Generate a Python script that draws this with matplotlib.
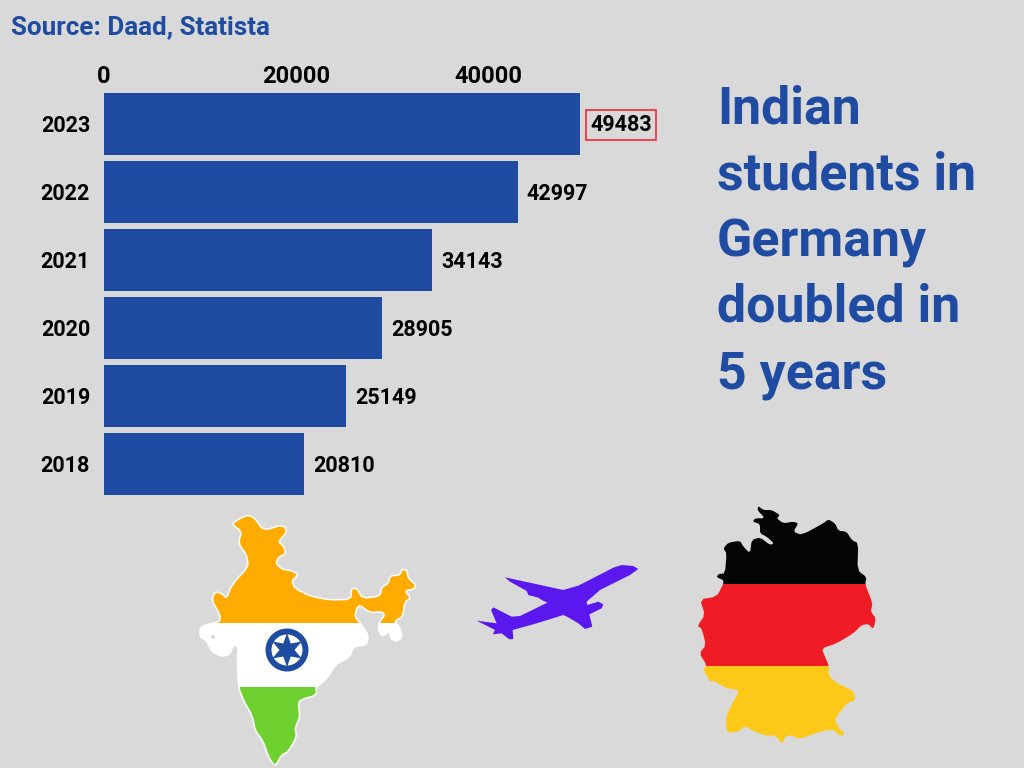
import numpy as np
from matplotlib import pyplot as plt
from matplotlib.patches import Circle, PathPatch, Polygon, Rectangle
from matplotlib.path import Path

years = ['2023', '2022', '2021', '2020', '2019', '2018']
students = [49483, 42997, 34143, 28905, 25149, 20810]
x_ticks = [0, 20000, 40000]

title_lines = ['Indian', 'students in', 'Germany', 'doubled in', '5 years']
source_text = 'Source: Daad, Statista'

bg = '#d9d9d9'
blue = '#1f4ca2'
font = 'Roboto'

W, H = 1024, 768


def smooth(pts, rounds=1):
    # chaikin corner cutting so the hand traced outlines are not so jagged
    pts = np.array(pts, dtype=float)
    for _ in range(rounds):
        nxt = np.roll(pts, -1, axis=0)
        pts = np.column_stack([0.8*pts + 0.2*nxt, 0.2*pts + 0.8*nxt]).reshape(-1, 2)
    return pts


def crop_to_px(pts, x0, y0):
    # outlines were traced on 3x crops of the picture
    return np.array(pts, dtype=float)/3 + [x0, y0]


def shape(ax, pts, bands, edge=None):
    path = Path(np.vstack([pts, pts[:1]]), closed=True)
    for y0, y1, col in bands:
        r = Rectangle((0, y0), W, y1-y0, fc=col, ec='none', zorder=3)
        ax.add_patch(r)
        r.set_clip_path(PathPatch(path, transform=ax.transData))
    if edge:
        ax.add_patch(PathPatch(path, fc='none', ec=edge, lw=1.1, zorder=4))


india_outline = [(155,72),(180,55),(205,45),(225,55),(245,85),(265,88),(295,77),(315,80),(320,97),(295,125),
    (312,140),(317,162),(295,172),(288,190),(305,207),(335,212),(355,224),(335,243),(345,265),(390,288),(450,300),
    (512,298),(515,265),(530,265),(548,295),(600,288),(605,262),(625,250),(630,228),(660,225),(665,208),(680,210),
    (685,235),(708,255),(700,268),(675,272),(692,295),(675,305),(668,350),(650,360),(645,368),(655,375),(668,410),
    (650,425),(632,415),(625,385),(622,400),(605,408),(595,390),(597,368),(615,345),(605,335),(570,338),(540,316),
    (530,325),(525,350),(540,368),(565,405),(560,435),(520,440),(510,470),(465,495),(445,530),(415,558),(408,560),
    (410,585),(360,600),(355,615),(360,650),(345,685),(350,710),(325,755),(305,765),(285,800),(265,770),(250,725),
    (225,690),(218,650),(190,600),(175,560),(172,470),(175,440),(160,435),(150,462),(125,470),(95,455),(80,422),
    (60,410),(60,385),(75,375),(120,365),(120,345),(95,300),(105,275),(125,280),(140,295),(155,255),(205,200),
    (200,165),(175,130),(185,95)]

germany_outline = [(235,18),(250,30),(275,30),(300,45),(290,55),(310,70),(340,65),(355,70),(340,95),(365,105),
    (430,70),(445,58),(465,70),(475,92),(500,95),(515,120),(535,130),(532,210),(560,232),(555,252),(578,310),
    (572,335),(588,355),(580,388),(565,372),(545,375),(520,400),(470,430),(425,445),(435,470),(447,498),(445,525),
    (470,550),(520,572),(527,600),(500,610),(470,650),(465,660),(480,690),(492,695),(490,707),(475,705),(460,688),
    (420,695),(355,718),(335,705),(315,710),(308,733),(285,705),(260,708),(225,695),(195,678),(175,695),(140,698),
    (138,655),(150,622),(180,570),(140,565),(100,542),(90,545),(70,510),(80,495),(58,460),(78,435),(65,385),(52,378),
    (75,345),(60,298),(110,290),(130,252),(130,240),(110,232),(115,222),(135,220),(140,160),(130,145),(145,128),
    (180,122),(190,140),(210,160),(215,120),(240,112),(270,135),(282,130),(260,110),(240,100),(240,72),(218,65),
    (225,55),(255,55),(232,30)]

plane_outline = [(505,42),(490,33),(455,30),(430,38),(325,92),(280,105),(105,67),(120,80),(170,108),(175,120),
    (205,128),(215,135),(232,143),(150,183),(125,185),(70,157),(63,165),(80,205),(20,197),(75,225),(68,238),(95,235),
    (118,253),(130,252),(128,225),(200,205),(280,180),(300,190),(325,205),(345,222),(367,215),(358,178),(395,160),
    (400,148),(385,140),(352,150),(350,140),(390,105),(480,60)]

fig = plt.figure(figsize=(W/100, H/100), dpi=100, facecolor=bg)

# bar chart, pixel box of the axes
px_per_unit = 476/49483
ax_right = 680
ax = fig.add_axes([104/W, (H-498)/H, (ax_right-104)/W, 408/H])
ax.set_facecolor('none')
ypos = np.arange(len(years))
ax.barh(ypos, students, height=62/68, color=blue)
ax.set_xlim(0, (ax_right-104)/px_per_unit)
ax.set_ylim(len(years)-0.5, -0.5)
ax.set_yticks(ypos, years, fontsize=15.5, fontweight='bold', fontfamily=font)
ax.set_xticks(x_ticks, [str(v) for v in x_ticks], fontsize=17, fontweight='bold', fontfamily=font)
ax.xaxis.tick_top()
ax.tick_params(length=0)
ax.tick_params(axis='y', pad=10)
ax.tick_params(axis='x', pad=1.5)
for s in ax.spines.values():
    s.set_visible(False)

for i, v in enumerate(students):
    if i == 0:
        ax.annotate(str(v), (v, i), xytext=(10, -1), textcoords='offset pixels', va='center', ha='left',
                    fontsize=15.5, fontweight='bold', fontfamily=font, color='black',
                    bbox=dict(boxstyle='square,pad=0.2', fc='none', ec='#ee2a35', lw=1.2))
    else:
        ax.annotate(str(v), (v, i), xytext=(9, -2), textcoords='offset pixels', va='center', ha='left',
                    fontsize=15.5, fontweight='bold', fontfamily=font, color='black')

# overlay in picture pixels for texts and the map cut outs
ov = fig.add_axes([0, 0, 1, 1])
ov.set_xlim(0, W)
ov.set_ylim(H, 0)
ov.axis('off')
ov.patch.set_alpha(0)

ov.text(11, 27, source_text, color=blue, fontsize=18.7, fontweight='bold', fontfamily=font, va='center')
for i, line in enumerate(title_lines):
    ov.text(717, 124 + i*66, line, color=blue, fontsize=37.4, fontweight='bold', fontfamily=font, va='baseline')

india = smooth(crop_to_px(india_outline, 180, 500))
shape(ov, india, [(500, 623, '#ffab00'), (623, 687, 'white'), (687, 768, '#6fd12f')], edge='white')
ov.add_patch(Circle((213, 637), 2, fc='#d9d9d9', ec='none', zorder=5))

# chakra, six pointed star inside a ring
cx, cy = 287, 650
ov.add_patch(Circle((cx, cy), 21.5, fc=blue, ec='none', zorder=5))
ov.add_patch(Circle((cx, cy), 15.5, fc='white', ec='none', zorder=5))
angles = np.arange(12)*np.pi/6 + np.pi/2
radii = np.where(np.arange(12) % 2 == 0, 17, 7.5)
ov.add_patch(Polygon(np.column_stack([cx + radii*np.cos(angles), cy + radii*np.sin(angles)]),
                     closed=True, fc=blue, ec='none', zorder=6))

germany = smooth(crop_to_px(germany_outline, 680, 500))
shape(ov, germany, [(500, 584, '#030404'), (584, 666, '#ef1c25'), (666, 768, '#fdc918')])

plane = crop_to_px(plane_outline, 470, 555)
ov.add_patch(Polygon(plane, closed=True, fc='#5a18ee', ec='none', zorder=3))

fig.savefig('out.png', dpi=100, facecolor=bg)
